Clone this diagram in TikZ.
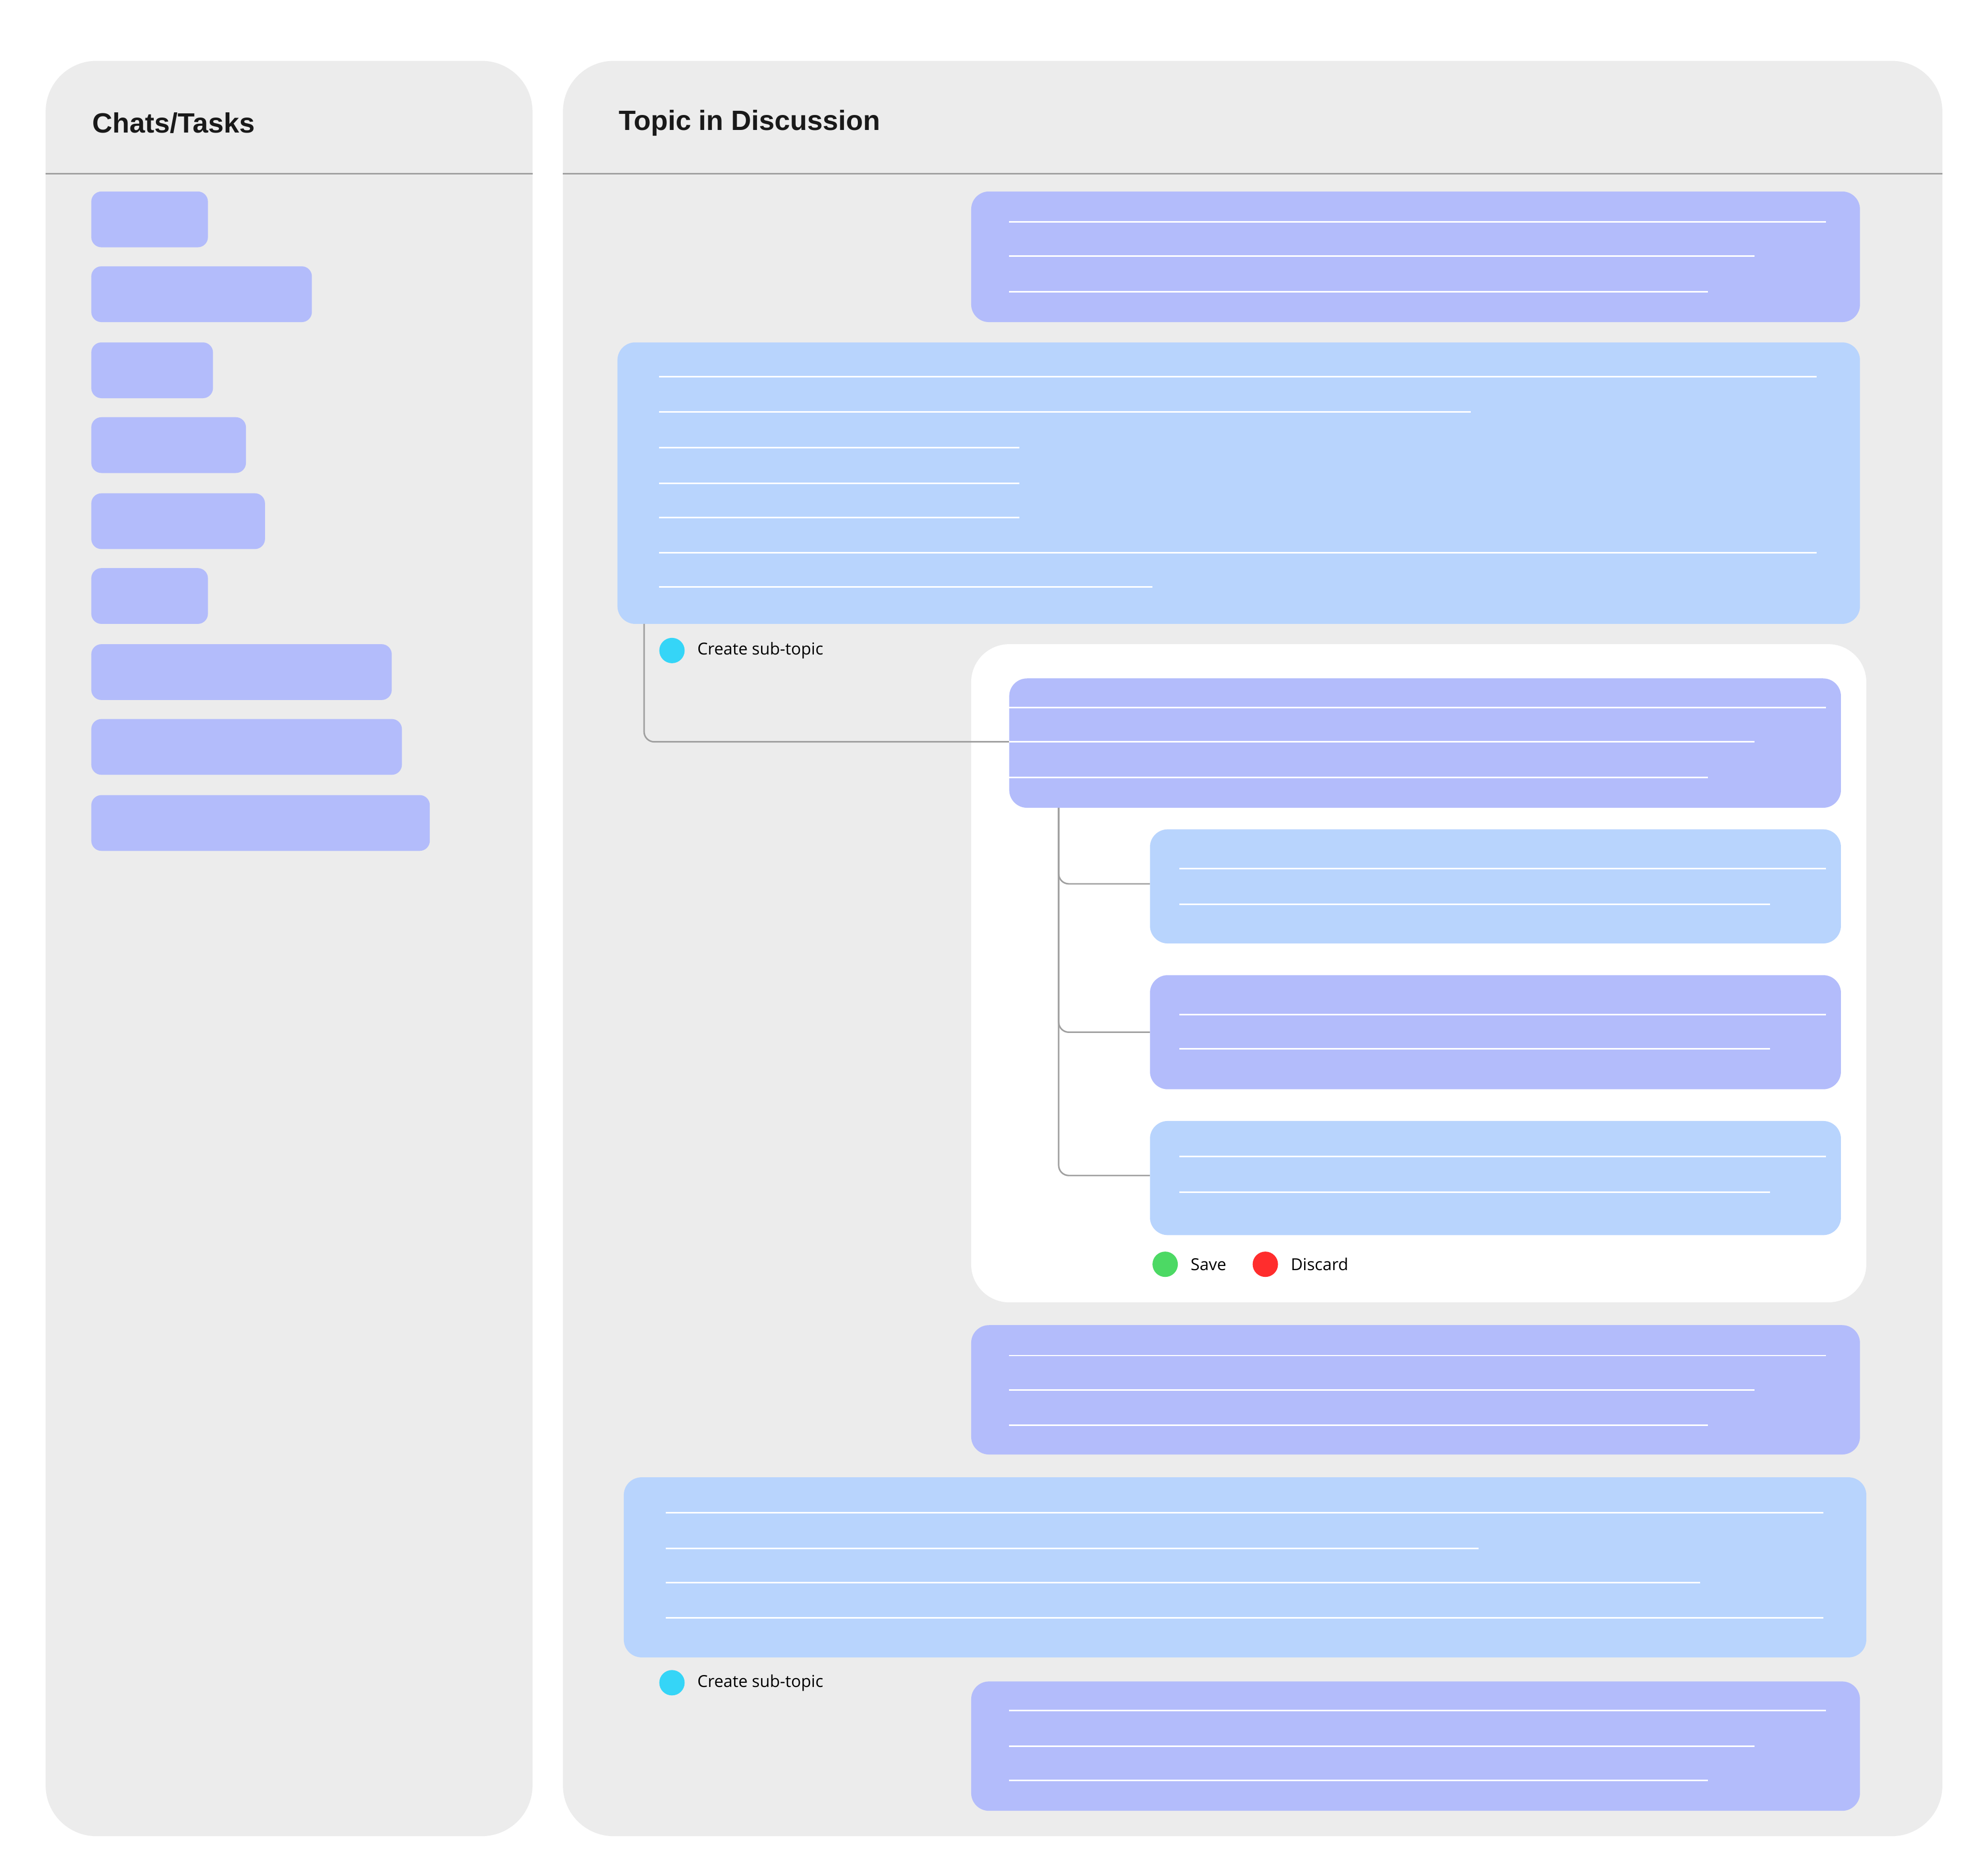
\documentclass[tikz,border=0pt]{standalone}
\usepackage{fontspec}
\setmainfont{Liberation Sans}
\newfontfamily\smallf{Open Sans}
\definecolor{panel}{HTML}{ECECEC}
\definecolor{purp}{HTML}{B3BCFB}
\definecolor{lblue}{HTML}{B8D4FD}
\definecolor{cyanc}{HTML}{35D5F7}
\definecolor{greenc}{HTML}{4CD964}
\definecolor{redc}{HTML}{FF2D2D}
\definecolor{sep}{HTML}{A0A0A0}
\tikzset{
  panelbox/.style={fill=panel,rounded corners=20pt},
  item/.style={fill=purp,rounded corners=4pt},
  pbox/.style={fill=purp,rounded corners=7pt},
  bbox/.style={fill=lblue,rounded corners=7pt},
  txtline/.style={white,line width=0.6pt},
  conn/.style={sep,line width=0.6pt,rounded corners=4pt},
  head/.style={anchor=west,font=\fontsize{11}{13}\selectfont\bfseries,text=black!90},
  lbl/.style={anchor=west,font=\smallf\fontsize{6.5}{8}\selectfont,text=black},
}
\newcommand{\tl}[3]{\draw[txtline] (#1,#3) -- (#2,#3);}
\begin{document}
\begin{tikzpicture}[x=0.5pt,y=-0.5pt]
\useasboundingbox[fill=white] (0,0) rectangle (1568,1469);
% panels
\fill[panelbox] (36,48) rectangle (420,1448);
\fill[panelbox] (444,48) rectangle (1532,1448);
\draw[sep,line width=0.6pt] (36,137) -- (420,137);
\draw[sep,line width=0.6pt] (444,137) -- (1532,137);
\node[head] (h1) at (66,97) {Chats/Tasks};
\node[head] (h2) at (481,97) {Topic in Discussion};
% left items
\foreach \y/\w in {151/164,210/246,270/168,329/194,389/209,448/164,508/309,567/317,627/339}
  \fill[item] (72,\y) rectangle (\w,\y+44);
% B1
\fill[pbox] (766,151) rectangle (1467,254);
\tl{796}{1440}{175}\tl{796}{1384}{202}\tl{796}{1347}{230}
% B2
\fill[bbox] (487,270) rectangle (1467,492);
\tl{520}{1433}{297}\tl{520}{1160}{325}\tl{520}{804}{353}\tl{520}{804}{381}\tl{520}{804}{408}\tl{520}{1433}{436}\tl{520}{909}{463}
\fill[cyanc] (530,513) circle (10);
\node[lbl] (cs1) at (543,513) {Create sub-topic};
% white box
\fill[white,rounded corners=15pt] (766,508) rectangle (1472,1027);
\coordinate (b2s) at (508,492);
\coordinate (b3w) at (796,585);
\draw[conn] (b2s) |- (b3w);
% B3
\fill[pbox] (796,535) rectangle (1452,637);
\tl{796}{1440}{558}\tl{796}{1384}{585}\tl{796}{1347}{613}
% tree
\coordinate (t0) at (835,637);
\foreach \y in {697,814,927} \draw[conn] (t0) |- (907,\y);
% children
\fill[bbox] (907,654) rectangle (1452,744);
\tl{930}{1440}{685}\tl{930}{1396}{713}
\fill[pbox] (907,769) rectangle (1452,859);
\tl{930}{1440}{800}\tl{930}{1396}{827}
\fill[bbox] (907,884) rectangle (1452,974);
\tl{930}{1440}{912}\tl{930}{1396}{940}
\fill[greenc] (919,997) circle (10);
\node[lbl] (sv) at (932,997) {Save};
\fill[redc] (998,997) circle (10);
\node[lbl] (dc) at (1011,997) {Discard};
% B4
\fill[pbox] (766,1045) rectangle (1467,1147);
\tl{796}{1440}{1069}\tl{796}{1384}{1096}\tl{796}{1347}{1124}
% B5
\fill[bbox] (492,1165) rectangle (1472,1307);
\tl{525}{1438}{1193}\tl{525}{1166}{1221}\tl{525}{1341}{1248}\tl{525}{1438}{1276}
\fill[cyanc] (530,1327) circle (10);
\node[lbl] (cs2) at (543,1327) {Create sub-topic};
% B6
\fill[pbox] (766,1326) rectangle (1467,1428);
\tl{796}{1440}{1349}\tl{796}{1384}{1377}\tl{796}{1347}{1404}
\end{tikzpicture}
\end{document}
